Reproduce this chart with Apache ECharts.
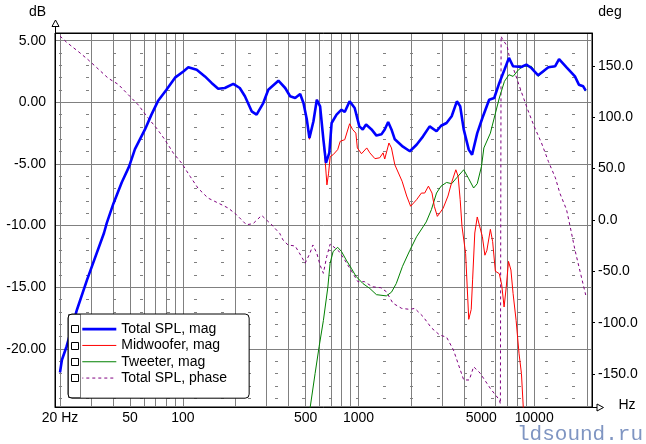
<!DOCTYPE html>
<html><head><meta charset="utf-8">
<script src="https://cdn.jsdelivr.net/npm/echarts@6/dist/echarts.min.js"></script>
<style>html,body{margin:0;padding:0;background:#fff}#c{width:646px;height:444px}</style>
</head><body><div id="c"></div>
<script>
// ---- axis ticks / gridlines ----
const gridFreqs = [20,30,40,50,60,70,80,90,100,200,300,400,500,600,700,800,900,1000,2000,3000,4000,5000,6000,7000,8000,9000,10000,20000];
const labelFreqs = [20,50,100,500,1000,5000,10000];
const legendNames = ['Total SPL, mag','Midwoofer, mag','Tweeter, mag','Total SPL, phase'];

// ---- series: [frequency Hz, value] ----
const totalSpl = [[20,-21.9],[20.5,-20.9],[21.8,-19.8],[25,-16.8],[28.5,-14.4],[35.6,-10.6],[36.9,-9.8],[40.3,-8.2],[44.9,-6.5],[49.5,-5.2],[53.4,-3.8],[60.9,-2.2],[66.3,-1.0],[72.2,0.1],[80.5,1.0],[90.3,2.0],[100.7,2.5],[107.5,2.84],[120,2.64],[133.6,2.1],[145.8,1.57],[159,1.1],[173.5,1.16],[193.7,1.5],[211,1.16],[225.7,0.49],[246.6,-0.73],[263,-1.0],[287,-0.06],[306.5,1.02],[350,1.75],[382.5,1.16],[408,0.49],[436,0.35],[465.5,0.67],[486,-0.06],[508,-1.4],[525.6,-2.9],[554,-1.54],[579,0.21],[604.5,-0.33],[631,-3.0],[653,-4.92],[682,-4.1],[703,-1.68],[750,-1.0],[800,-0.6],[835,-0.79],[890,0.08],[951,-0.46],[1011,-1.95],[1057,-2.2],[1104,-1.8],[1186,-2.2],[1265,-2.7],[1350,-2.6],[1410,-2.2],[1475,-1.6],[1540,-2.2],[1609,-3.0],[1790,-3.6],[1960,-3.97],[2140,-3.44],[2330,-2.76],[2540,-1.95],[2780,-2.35],[2950,-1.9],[3170,-1.68],[3390,-1.13],[3630,0.08],[3790,-0.32],[3970,-2.2],[4240,-3.84],[4430,-4.25],[4740,-2.5],[5070,-1.27],[5540,0.21],[5920,0.35],[6330,1.57],[6770,2.64],[7180,3.6],[7580,2.92],[8440,2.86],[9020,3.05],[9640,2.78],[10530,2.19],[12040,2.84],[13140,2.92],[13850,3.51],[15280,2.84],[17050,2.1],[17960,1.43],[19010,1.3],[19640,0.94]];

const midwoofer = [[20,-21.9],[20.5,-20.9],[21.8,-19.8],[25,-16.8],[28.5,-14.4],[35.6,-10.6],[36.9,-9.8],[40.3,-8.2],[44.9,-6.5],[49.5,-5.2],[53.4,-3.8],[60.9,-2.2],[66.3,-1.0],[72.2,0.1],[80.5,1.0],[90.3,2.0],[100.7,2.5],[107.5,2.84],[120,2.64],[133.6,2.1],[145.8,1.57],[159,1.1],[173.5,1.16],[193.7,1.5],[211,1.16],[225.7,0.49],[246.6,-0.73],[263,-1.0],[287,-0.06],[306.5,1.02],[350,1.75],[382.5,1.16],[408,0.49],[436,0.35],[465.5,0.67],[486,-0.06],[508,-1.4],[525.6,-3.0],[554,-1.54],[579,0.21],[604.5,-0.33],[631,-3.1],[648,-5.0],[661,-6.7],[675,-5.8],[690,-4.4],[717,-4.25],[761,-3.84],[787,-3.16],[835,-3.03],[890,-1.74],[925,-2.2],[966,-2.5],[985,-3.7],[1040,-4.17],[1114,-3.7],[1160,-4.1],[1240,-4.57],[1320,-4.5],[1380,-4.1],[1410,-4.6],[1490,-3.3],[1540,-3.7],[1609,-5.06],[1770,-6.4],[1880,-7.6],[1980,-8.43],[2140,-7.9],[2280,-7.36],[2380,-7.36],[2500,-6.8],[2620,-7.36],[2700,-8.43],[2810,-9.25],[3030,-8.6],[3230,-7.6],[3390,-6.5],[3580,-5.47],[3690,-6.0],[3790,-7.9],[3880,-10.06],[4070,-12.25],[4240,-17.6],[4380,-16.8],[4460,-14.4],[4590,-10.6],[4740,-9.3],[5070,-10.9],[5240,-12.4],[5380,-12.0],[5630,-10.3],[5800,-11.3],[6010,-13.7],[6330,-13.9],[6530,-14.8],[6740,-16.6],[6930,-15.0],[7140,-12.9],[7370,-13.6],[7580,-15.5],[7890,-17.7],[8200,-20.4],[8460,-22.0],[8670,-24.8],[8800,-28]];

const tweeter = [[515,-26.5],[530,-24.8],[566,-22.0],[597,-19.8],[631,-17.7],[669,-15.0],[689,-13.06],[717,-12.1],[761,-11.76],[800,-12.1],[852,-12.8],[910,-13.46],[966,-14.1],[1060,-14.7],[1160,-15.1],[1265,-15.6],[1440,-15.7],[1540,-15.4],[1640,-14.7],[1780,-13.3],[1960,-12.0],[2140,-10.9],[2330,-10.1],[2430,-9.7],[2600,-8.7],[2780,-7.36],[2950,-6.8],[3170,-6.5],[3390,-6.6],[3630,-6.1],[3970,-5.47],[4240,-6.2],[4520,-6.95],[4740,-6.6],[5010,-5.2],[5170,-3.7],[5630,-2.5],[5920,-1.27],[6330,0.35],[6770,1.7],[7180,2.24],[7580,2.1],[8140,2.64],[8670,2.92],[9640,2.92],[10530,2.1],[12040,2.8],[13140,2.9],[13850,3.45],[15280,2.8],[17050,2.05],[17960,1.4],[19010,1.25],[19640,0.9]];

const totalPhase = [[20,179],[21.8,173],[25.4,164],[28.9,156],[33,147],[37.6,138],[42.9,132],[48.9,122],[55.8,112],[63.6,99],[70.8,89.5],[79.2,78],[88.4,65],[98.3,55.5],[110,42.5],[122,31],[139,21.4],[159,16.5],[181,11.7],[202,5.2],[230,-4.6],[251,-3.6],[281,4.5],[327,-6.1],[341,-9.7],[356,-13],[372,-19.5],[397,-24.3],[436,-25.3],[474,-35.7],[497,-42],[529,-32.4],[550,-24.3],[579,-32.4],[604,-43.8],[631,-51.9],[659,-35.7],[690,-23.4],[770,-30],[835,-39],[929,-51.9],[991,-60],[1081,-60],[1200,-65],[1340,-65.9],[1440,-69.8],[1570,-81],[1760,-86],[1960,-87],[2090,-86],[2330,-94],[2600,-105],[2900,-112],[3170,-114],[3470,-126.5],[3970,-155.7],[4270,-155.7],[4520,-142.8],[4920,-149],[5630,-164],[6330,-175],[6420,-179],[6480,179],[6550,177],[7020,169],[7240,157.7],[7770,143],[8440,125],[9200,107],[10000,91],[11000,75],[12040,57],[13200,41],[14000,26],[15280,10],[16080,-7.8],[17050,-29],[18350,-52],[19640,-73]];

const FONT = "'Liberation Sans', Arial, sans-serif";
const chart = echarts.init(document.getElementById('c'), null, {renderer: 'canvas'});

function lineSeries(name, data, color, width, type, yIdx) {
  return {
    name: name, type: 'line', data: data, yAxisIndex: yIdx,
    symbol: 'none', showSymbol: false, smooth: false, clip: true,
    lineStyle: {color: color, width: width, type: type},
    itemStyle: {color: color},
    emphasis: {disabled: true}
  };
}

const option = {
  animation: false,
  backgroundColor: '#fff',
  grid: {left: 55, right: 54, top: 33, bottom: 37, show: true, borderColor: '#000', borderWidth: 1, backgroundColor: '#fff'},
  xAxis: {
    type: 'log', logBase: 10, min: 18.73, max: 21326,
    axisLine: {show: true, onZero: false, lineStyle: {color: '#000', width: 1}},
    axisTick: {show: false, customValues: gridFreqs},
    axisLabel: {customValues: labelFreqs, formatter: function (v) { return v === 20 ? '20 Hz' : String(v); },
      color: '#000', fontSize: 14, fontFamily: FONT, margin: 4},
    splitLine: {show: true, lineStyle: {color: '#808080', width: 1}},
    minorSplitLine: {show: false}
  },
  yAxis: [{
    type: 'value', min: -24.71, max: 5.62, splitNumber: 6, position: 'left',
    axisLine: {show: true, onZero: false, lineStyle: {color: '#000', width: 1}},
    axisTick: {show: false},
    axisLabel: {formatter: function (v) { return v.toFixed(2); }, color: '#000', fontSize: 14, fontFamily: FONT, margin: 9,
      showMinLabel: false, showMaxLabel: false},
    splitLine: {show: true, lineStyle: {color: '#808080', width: 1}},
    minorTick: {show: false, splitNumber: 5},
    minorSplitLine: {show: true, lineStyle: {color: '#808080', width: 1, type: [3, 24], dashOffset: -4}}
  }, {
    type: 'value', min: -182, max: 182, splitNumber: 7, position: 'right',
    axisLine: {show: true, onZero: false, lineStyle: {color: '#000', width: 1}},
    axisTick: {show: true, length: 3, lineStyle: {color: '#000'}},
    axisLabel: {formatter: function (v) { return v.toFixed(1); }, color: '#000', fontSize: 14, fontFamily: FONT, margin: 6,
      showMinLabel: false, showMaxLabel: false},
    splitLine: {show: false}
  }],
  legend: {
    orient: 'vertical', left: 68, top: 314, padding: [7, 22, 12, 13],
    itemWidth: 34, itemHeight: 14, itemGap: 0,
    backgroundColor: '#fff', borderColor: '#000', borderWidth: 1, borderRadius: 4,
    selectedMode: false,
    itemStyle: {opacity: 0},
    lineStyle: {width: 'inherit'},
    textStyle: {color: '#000', fontSize: 14, fontFamily: FONT, lineHeight: 16.3},
    data: legendNames
  },
  series: [
    lineSeries(legendNames[3], totalPhase, '#800080', 1, [3, 3], 1),
    lineSeries(legendNames[2], tweeter, '#008000', 1, 'solid', 0),
    lineSeries(legendNames[1], midwoofer, '#ff0000', 1, 'solid', 0),
    lineSeries(legendNames[0], totalSpl, '#0000ff', 2.6, 'solid', 0)
  ],
  graphic: [
    {type: 'line', z: 100, shape: {x1: 55, y1: 33.5, x2: 592, y2: 33.5}, style: {stroke: '#000', lineWidth: 1}},
    {type: 'line', z: 100, shape: {x1: 55.5, y1: 26, x2: 55.5, y2: 33}, style: {stroke: '#000', lineWidth: 1}},
    {type: 'polygon', z: 100, shape: {points: [[52, 26.5], [59, 26.5], [55.5, 20]]}, style: {fill: '#fff', stroke: '#000', lineWidth: 1}},
    {type: 'line', z: 100, shape: {x1: 592, y1: 407.5, x2: 597, y2: 407.5}, style: {stroke: '#000', lineWidth: 1}},
    {type: 'polygon', z: 100, shape: {points: [[597, 404], [597, 411], [603.5, 407.5]]}, style: {fill: '#fff', stroke: '#000', lineWidth: 1}},
    {type: 'text', z: 100, x: 37.5, y: 12, style: {text: 'dB', fill: '#000', font: '14px ' + FONT, textAlign: 'center', textVerticalAlign: 'middle'}},
    {type: 'text', z: 100, x: 610, y: 12, style: {text: 'deg', fill: '#000', font: '14px ' + FONT, textAlign: 'center', textVerticalAlign: 'middle'}},
    {type: 'text', z: 100, x: 627, y: 405, style: {text: 'Hz', fill: '#000', font: '14px ' + FONT, textAlign: 'center', textVerticalAlign: 'middle'}},
    {type: 'text', z: 100, x: 517, y: 434, style: {text: 'ldsound.ru', fill: '#7f95c2', font: "21px 'Liberation Mono', 'Courier New', monospace", textAlign: 'left', textVerticalAlign: 'middle'}},
    {type: 'rect', z: 100, shape: {x: 68.5, y: 314.5, width: 12, height: 83}, style: {fill: 'none', stroke: '#000', lineWidth: 1, lineDash: [1, 1]}},
    {type: 'rect', z: 100, shape: {x: 71.5, y: 325.5, width: 7, height: 7}, style: {fill: '#fff', stroke: '#000', lineWidth: 1}},
    {type: 'rect', z: 100, shape: {x: 71.5, y: 342.5, width: 7, height: 7}, style: {fill: '#fff', stroke: '#000', lineWidth: 1}},
    {type: 'rect', z: 100, shape: {x: 71.5, y: 358.5, width: 7, height: 7}, style: {fill: '#fff', stroke: '#000', lineWidth: 1}},
    {type: 'rect', z: 100, shape: {x: 71.5, y: 374.5, width: 7, height: 7}, style: {fill: '#fff', stroke: '#000', lineWidth: 1}}
  ]
};
chart.setOption(option);
</script>
</body></html>
